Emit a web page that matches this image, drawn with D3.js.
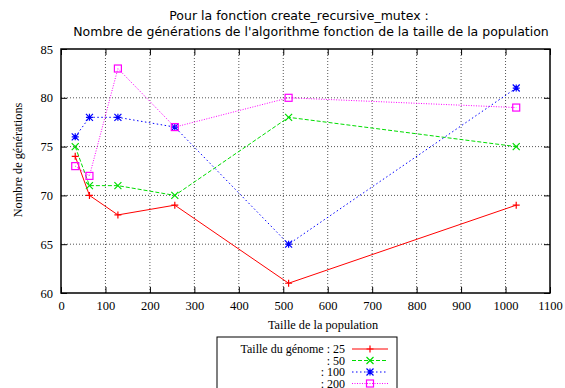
<!DOCTYPE html>
<html>
<head>
<meta charset="utf-8">
<script src="https://cdn.jsdelivr.net/npm/d3@7"></script>
<style>
  body { margin: 0; background: #fff; }
  svg text.serif { font-family: "Liberation Serif", "DejaVu Serif", serif; }
  .title { font-family: "DejaVu Sans", sans-serif; font-size: 12.5px; }
  .grid line { stroke: #555; stroke-width: 1; stroke-dasharray: 1,2; }
</style>
</head>
<body>
<svg width="565" height="388"></svg>
<script>
const populations = [32, 64, 128, 256, 512, 1024]
const genomeSizes = ['25', '50', '100', '200']
const gen25 = [74, 70, 68, 69, 61, 69]
const gen50 = [75, 71, 71, 70, 78, 75]
const gen100 = [76, 78, 78, 77, 65, 81]
const gen200 = [73, 72, 83, 77, 80, 79]
const xTicks = d3.range(0, 1101, 100)
const yTicks = [60, 65, 70, 75, 80, 85]

const series = [
  { name: genomeSizes[0], values: gen25, color: '#ff0000', dash: null, marker: 'plus' },
  { name: genomeSizes[1], values: gen50, color: '#00dd00', dash: '4,2', marker: 'cross' },
  { name: genomeSizes[2], values: gen100, color: '#0000ff', dash: '1.5,2.5', marker: 'star' },
  { name: genomeSizes[3], values: gen200, color: '#ff00ff', dash: '1,1.5', marker: 'square' }
]

const svg = d3.select('svg')
const mLeft = 61, mRight = 550, mTop = 49, mBottom = 293

const x = d3.scaleLinear().domain([0, 1100]).range([mLeft, mRight])
const y = d3.scaleLinear().domain([60, 85]).range([mBottom, mTop])

// title
svg.append('text').attr('class', 'title').attr('x', 299).attr('y', 20)
  .attr('text-anchor', 'middle').text('Pour la fonction create_recursive_mutex :')
svg.append('text').attr('class', 'title').attr('x', 311).attr('y', 36)
  .attr('text-anchor', 'middle').text("Nombre de générations de l'algorithme fonction de la taille de la population")

// grid
const grid = svg.append('g').attr('class', 'grid')
grid.selectAll('.gx').data(xTicks.slice(1, -1)).enter().append('line')
  .attr('x1', d => x(d)).attr('x2', d => x(d)).attr('y1', mTop).attr('y2', mBottom)
grid.selectAll('.gy').data(yTicks.slice(1, -1)).enter().append('line')
  .attr('x1', mLeft).attr('x2', mRight).attr('y1', d => y(d)).attr('y2', d => y(d))

// axes
const xAxis = svg.append('g').attr('transform', `translate(0,${mBottom})`)
  .call(d3.axisBottom(x).tickValues(xTicks).tickSize(-6).tickPadding(8).tickFormat(d3.format('d')))
const xAxisTop = svg.append('g').attr('transform', `translate(0,${mTop})`)
  .call(d3.axisTop(x).tickValues(xTicks).tickSize(-6).tickFormat(''))
const yAxis = svg.append('g').attr('transform', `translate(${mLeft},0)`)
  .call(d3.axisLeft(y).tickValues(yTicks).tickSize(-6).tickPadding(8))
const yAxisRight = svg.append('g').attr('transform', `translate(${mRight},0)`)
  .call(d3.axisRight(y).tickValues(yTicks).tickSize(-6).tickFormat(''))
;[xAxis, xAxisTop, yAxis, yAxisRight].forEach(g => {
  g.selectAll('.domain').remove()
  g.selectAll('line').attr('stroke', '#000')
  g.selectAll('text').attr('class', 'serif').attr('font-size', 12.5).attr('fill', '#000')
})
svg.append('rect').attr('x', mLeft).attr('y', mTop).attr('width', mRight - mLeft).attr('height', mBottom - mTop)
  .attr('fill', 'none').attr('stroke', '#000').attr('stroke-width', 1.5)

// axis labels
svg.append('text').attr('class', 'serif').attr('font-size', 12.3).attr('x', 323).attr('y', 329)
  .attr('text-anchor', 'middle').text('Taille de la population')
svg.append('text').attr('class', 'serif').attr('font-size', 12.3)
  .attr('transform', 'translate(22,160) rotate(-90)')
  .attr('text-anchor', 'middle').text('Nombre de générations')

function drawMarker(g, type, color) {
  const s = 3.5
  if (type === 'plus') {
    g.append('path').attr('d', `M${-s},0H${s}M0,${-s}V${s}`)
  } else if (type === 'cross') {
    g.append('path').attr('d', `M${-s},${-s}L${s},${s}M${-s},${s}L${s},${-s}`)
  } else if (type === 'star') {
    g.append('path').attr('d', `M${-s},0H${s}M0,${-s}V${s}M${-s},${-s}L${s},${s}M${-s},${s}L${s},${-s}`)
  } else {
    g.append('rect').attr('x', -s).attr('y', -s).attr('width', 2 * s).attr('height', 2 * s).attr('fill', 'none')
  }
  g.selectAll('path, rect').attr('stroke', color).attr('stroke-width', 1.2)
}

const line = d3.line().x(d => x(d.p)).y(d => y(d.v))

series.forEach(s => {
  const pts = populations.map((p, i) => ({ p: p, v: s.values[i] }))
  svg.append('path').datum(pts).attr('d', line).attr('fill', 'none')
    .attr('stroke', s.color).attr('stroke-width', 1).attr('stroke-dasharray', s.dash)
  pts.forEach(d => {
    const g = svg.append('g').attr('transform', `translate(${x(d.p)},${y(d.v)})`)
    drawMarker(g, s.marker, s.color)
  })
})

// legend
svg.append('rect').attr('x', 217).attr('y', 337).attr('width', 180).attr('height', 60)
  .attr('fill', 'none').attr('stroke', '#000').attr('stroke-width', 1)
const legendLabels = ['Taille du génome : ' + genomeSizes[0]].concat(genomeSizes.slice(1).map(n => ': ' + n))
series.forEach((s, i) => {
  const ly = 349 + i * 11.5
  svg.append('text').attr('class', 'serif').attr('font-size', 12).attr('x', 345).attr('y', ly + 4)
    .attr('text-anchor', 'end').text(legendLabels[i])
  svg.append('line').attr('x1', 352).attr('x2', 388).attr('y1', ly).attr('y2', ly)
    .attr('stroke', s.color).attr('stroke-width', 1).attr('stroke-dasharray', s.dash)
  const g = svg.append('g').attr('transform', `translate(370,${ly})`)
  drawMarker(g, s.marker, s.color)
})
</script>
</body>
</html>
